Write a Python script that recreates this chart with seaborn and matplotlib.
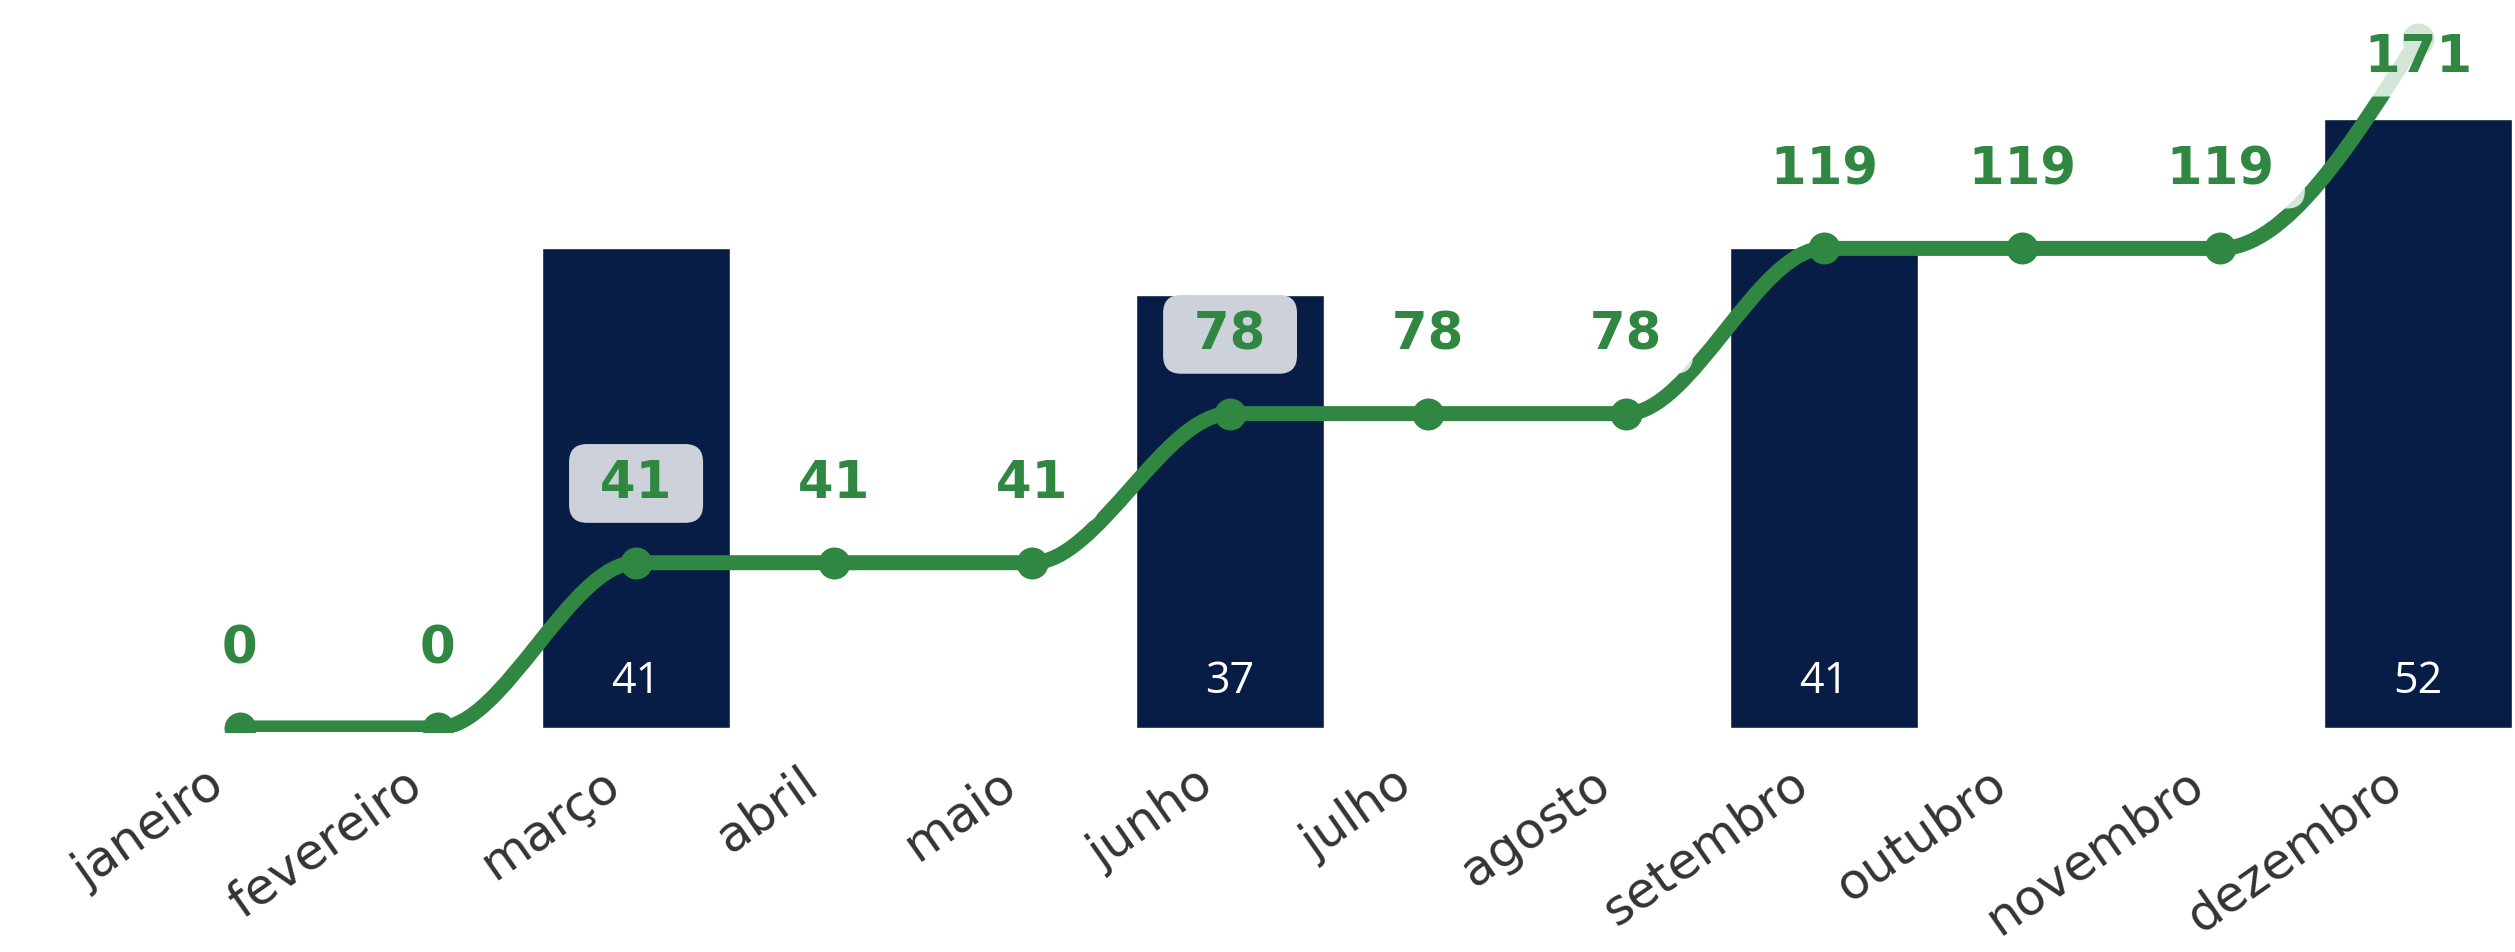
import numpy as np
import pandas as pd
import seaborn as sns
import matplotlib.pyplot as plt
from matplotlib.path import Path
from matplotlib.patches import PathPatch
from matplotlib.transforms import ScaledTranslation

# dados do grafico
meses = ['janeiro', 'fevereiro', 'março', 'abril', 'maio', 'junho',
         'julho', 'agosto', 'setembro', 'outubro', 'novembro', 'dezembro']
entradas = [0, 0, 41, 0, 0, 37, 0, 0, 41, 0, 0, 52]
acumulado = [0, 0, 41, 41, 41, 78, 78, 78, 119, 119, 119, 171]
destaque = ['março', 'junho']

navy = '#071d45'
verde = '#2f8742'
cinza = '#cdd2da'

sns.set_theme(style='white')
plt.rcParams['font.family'] = ['DejaVu Sans']

df = pd.DataFrame({'mes': meses, 'entradas': entradas, 'acumulado': acumulado})

fig = plt.figure(figsize=(25.15, 9.53), dpi=100)
ax1 = fig.add_axes([0.0561, 0.2309, 0.9447, 0.7691])

# barras (entradas no mes)
sns.barplot(data=df, x='mes', y='entradas', color=navy, saturation=1, width=0.95, ax=ax1)
ax1.set_xlim(-0.5, 11.5)
ax1.set_ylim(-0.35, 62.25)
for i, v in enumerate(entradas):
    if v > 0:
        ax1.text(i, 3.1, str(v), ha='center', va='baseline', color='white',
                 fontsize=31, family=['Open Sans', 'DejaVu Sans'])

# linha acumulada no eixo secundario
ax2 = ax1.twinx()
ax2.set_ylim(-1, 180.9)
ax2.set_xlim(-0.5, 11.5)

# curva monotona (tipo d3 curveMonotoneX) a partir dos pontos
x = np.arange(len(meses), dtype=float)
y = np.array(acumulado, dtype=float)
sec = np.diff(y) / np.diff(x)
t = np.zeros_like(y)
for i in range(1, len(y) - 1):
    s0, s1 = sec[i - 1], sec[i]
    p = (s0 + s1) / 2
    t[i] = (np.sign(s0) + np.sign(s1)) * min(abs(s0), abs(s1), 0.5 * abs(p))
t[0] = (3 * sec[0] - t[1]) / 2
t[-1] = (3 * sec[-1] - t[-2]) / 2

verts = [(x[0], y[0])]
codes = [Path.MOVETO]
for i in range(len(x) - 1):
    dx = (x[i + 1] - x[i]) / 3
    verts += [(x[i] + dx, y[i] + dx * t[i]),
              (x[i + 1] - dx, y[i + 1] - dx * t[i + 1]),
              (x[i + 1], y[i + 1])]
    codes += [Path.CURVE4] * 3
ax2.add_patch(PathPatch(Path(verts, codes), fc='none', ec=verde, lw=10.8,
                        capstyle='butt', zorder=3))

sns.scatterplot(data=df, x=x, y='acumulado', ax=ax2, s=530, color=verde,
                linewidth=0, zorder=4)

for i, v in enumerate(acumulado):
    yl = min(v + 16.2, 163)
    if meses[i] in destaque:
        fc, a = cinza, 1
    else:
        fc, a = 'white', 0.8
    ax2.text(i, yl, f'\u2004{v}\u2004', ha='center', va='baseline', fontsize=37,
             fontweight='bold', color=verde, zorder=5,
             bbox=dict(boxstyle='round,pad=0.28,rounding_size=0.35', fc=fc, ec='none', alpha=a))

# eixos
for ax in (ax1, ax2):
    ax.set_yticks([])
    ax.set_ylabel('')
    ax.set_xlabel('')
    for s in ax.spines.values():
        s.set_visible(False)

ax1.tick_params(axis='x', length=0, pad=8, labelsize=36, labelcolor='#333333')
desloc = ScaledTranslation(-0.35, -0.15, fig.dpi_scale_trans)
for lbl in ax1.get_xticklabels():
    lbl.set_rotation(35)
    lbl.set_ha('right')
    lbl.set_rotation_mode('anchor')
    lbl.set_transform(lbl.get_transform() + desloc)

fig.savefig('out.png', dpi=100)
